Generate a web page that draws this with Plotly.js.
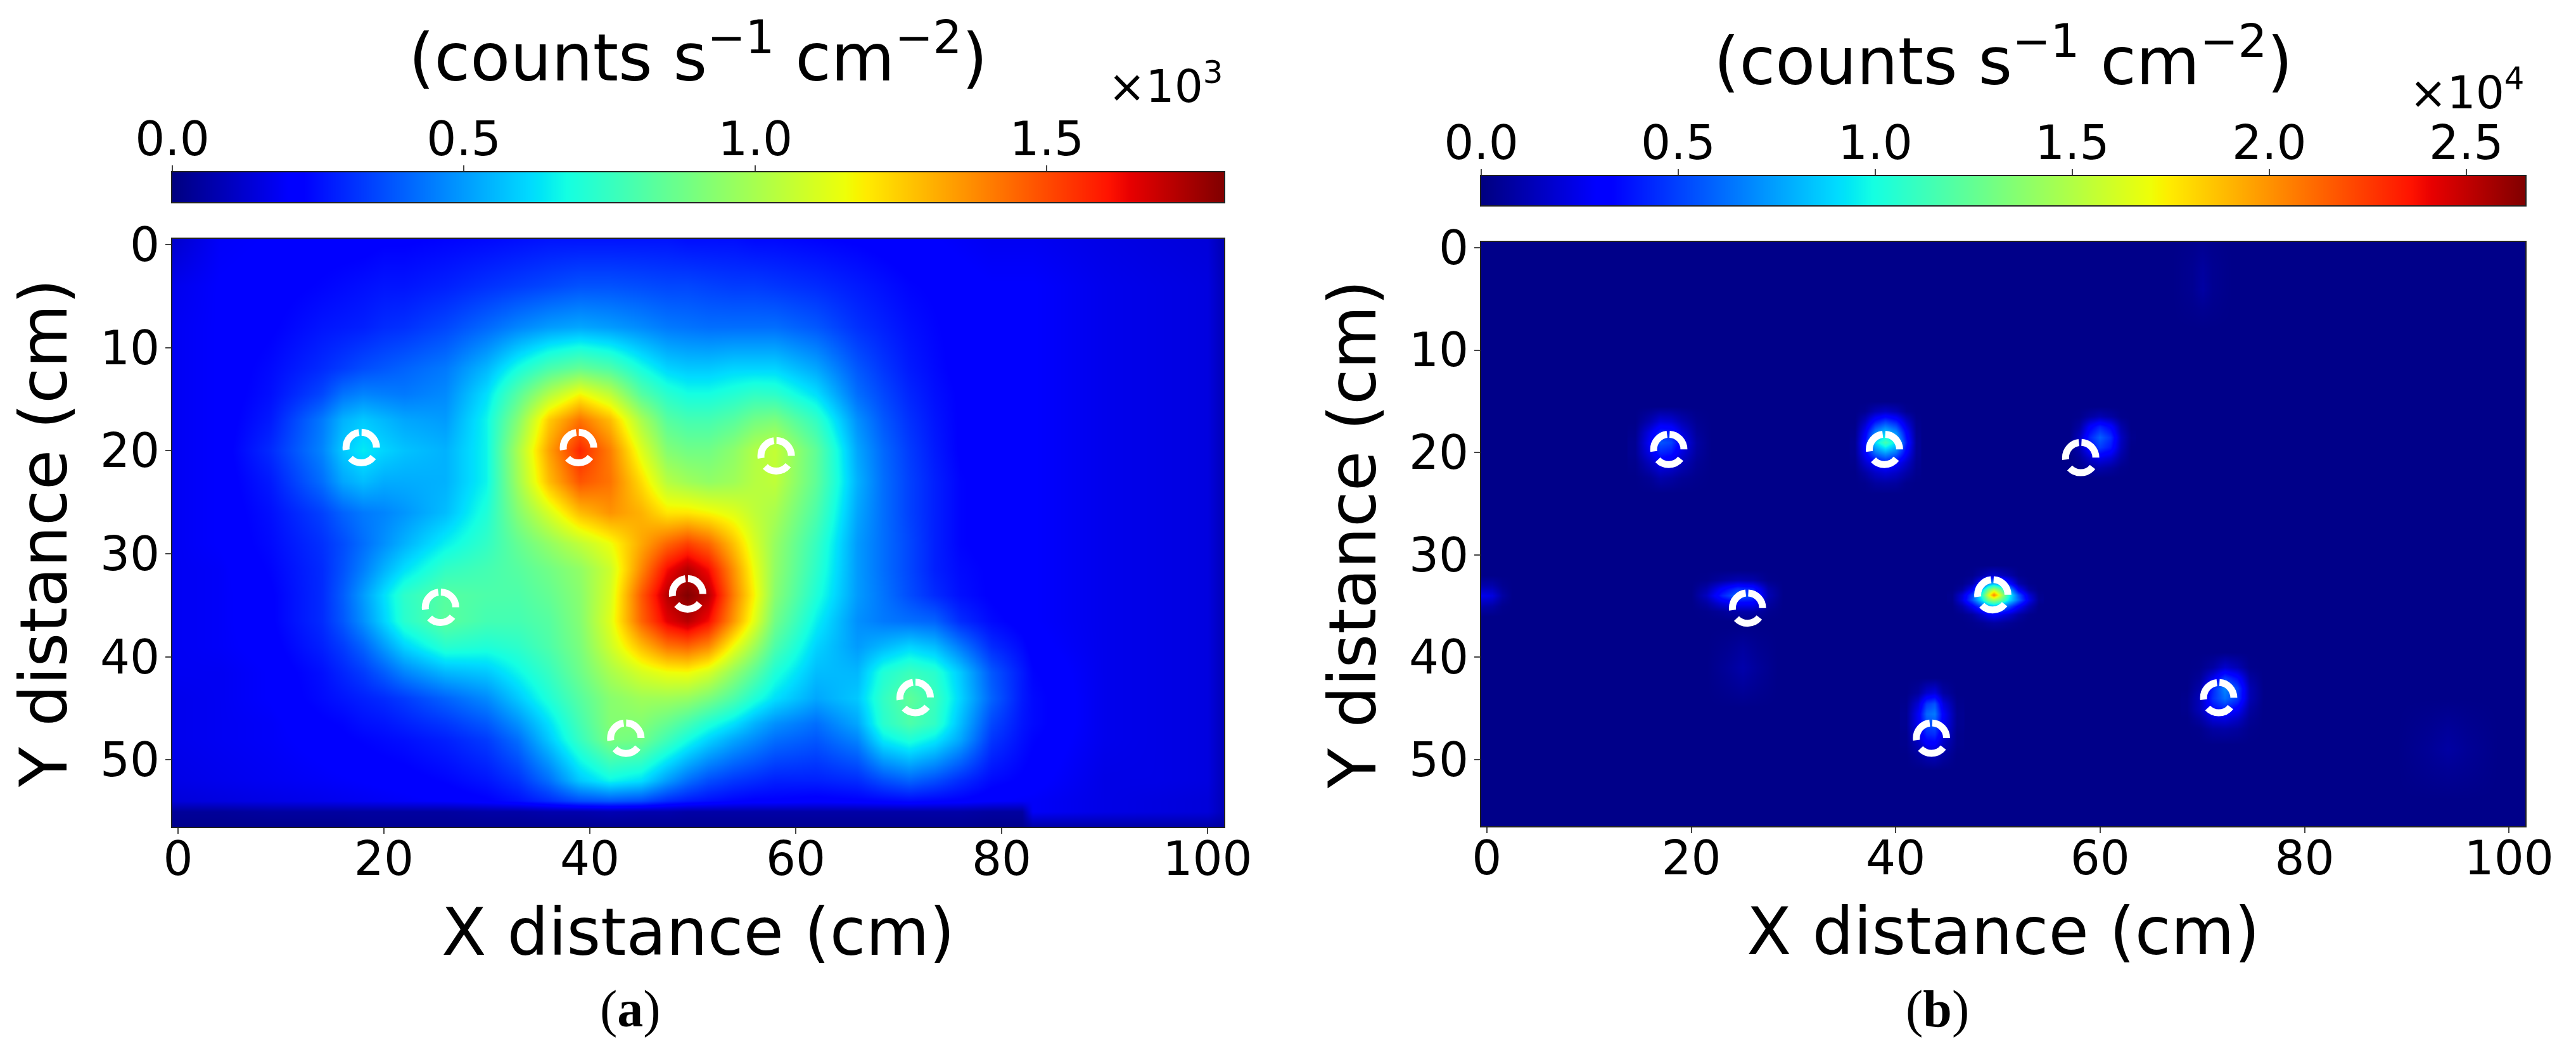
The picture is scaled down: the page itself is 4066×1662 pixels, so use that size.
<!DOCTYPE html>
<html><head><meta charset="utf-8">
<script src="https://cdn.plot.ly/plotly-3.0.1.min.js"></script>
<style>html,body{margin:0;padding:0;background:#fff}</style></head>
<body><div id="chart" style="width:4066px;height:1662px"></div>
<script>
// ---------- values ----------
const xTicks=[0,20,40,60,80,100];
const yTicks=[0,10,20,30,40,50];
const cbTicksA=[0,0.5,1,1.5];
const cbTicksB=[0,0.5,1,1.5,2,2.5];
const maxA=1.804, maxB=2.65;   // colour-scale tops, in units of 10^3 and 10^4
const ringX=[17.8,38.9,58.1,25.5,49.5,43.5,71.6];
const ringY=[19.7,19.7,20.5,35.2,33.9,47.9,43.95];

// panel (a), counts in units of 10^3
const xA=[-0.5,4,9,14,16,18,20,22,26,30,33,36,39,42,45,47.5,49.5,51.5,54,56,58,62,66,68.5,71,73.5,76,79,82,83,90,95,100,101.5];
const yA=[-0.5,4,8,12,14.5,17,20,23,26,29,31.5,34,36.5,39,41.5,44,46.5,48,52,54,55,56.5];
const zA=[
[.12,.19,.2,.21,.21,.21,.22,.22,.23,.24,.25,.26,.26,.26,.26,.26,.25,.25,.25,.24,.24,.23,.22,.21,.2,.2,.19,.18,.18,.18,.16,.15,.14,.08],
[.17,.2,.21,.23,.24,.25,.26,.26,.28,.31,.33,.35,.37,.37,.36,.35,.35,.34,.33,.33,.32,.3,.27,.25,.23,.22,.21,.2,.2,.2,.17,.16,.15,.09],
[.18,.2,.22,.26,.27,.28,.3,.31,.35,.41,.46,.5,.52,.5,.47,.44,.43,.42,.42,.42,.42,.38,.31,.28,.25,.23,.21,.2,.2,.2,.17,.16,.15,.09],
[.18,.2,.24,.3,.33,.36,.38,.4,.44,.55,.68,.79,.85,.8,.68,.6,.58,.58,.6,.6,.6,.52,.38,.32,.27,.24,.21,.2,.2,.2,.17,.16,.15,.09],
[.18,.2,.25,.35,.43,.46,.45,.44,.47,.62,.82,1.02,1.17,1.05,.82,.72,.68,.68,.71,.74,.73,.62,.42,.35,.29,.25,.22,.21,.2,.2,.17,.16,.15,.09],
[.18,.2,.27,.44,.54,.58,.55,.52,.5,.66,.92,1.25,1.42,1.28,1.0,.82,.78,.78,.82,.88,.9,.74,.48,.38,.31,.26,.22,.21,.2,.2,.17,.16,.15,.09],
[.18,.2,.3,.46,.58,.64,.6,.57,.54,.66,1.0,1.33,1.57,1.4,1.12,.92,.88,.88,.94,1.02,1.06,.84,.52,.41,.33,.27,.22,.21,.2,.2,.17,.16,.15,.09],
[.18,.2,.27,.42,.52,.56,.53,.53,.54,.66,.98,1.28,1.48,1.42,1.22,1.03,.98,.95,.98,1.03,1.05,.84,.54,.42,.34,.28,.23,.21,.2,.2,.17,.16,.15,.09],
[.18,.2,.25,.34,.4,.44,.46,.49,.56,.7,.92,1.1,1.28,1.36,1.3,1.2,1.2,1.17,1.12,1.05,1.0,.8,.52,.42,.34,.28,.23,.21,.2,.2,.17,.16,.15,.09],
[.18,.2,.24,.31,.36,.42,.48,.54,.65,.74,.85,.95,1.05,1.15,1.32,1.45,1.52,1.45,1.27,1.1,.96,.75,.5,.42,.35,.28,.23,.21,.2,.2,.17,.16,.15,.09],
[.18,.19,.23,.3,.37,.45,.54,.62,.74,.78,.82,.88,.95,1.08,1.38,1.62,1.72,1.62,1.36,1.14,.95,.73,.5,.42,.35,.28,.24,.22,.2,.2,.17,.16,.15,.09],
[.18,.19,.22,.3,.39,.5,.62,.73,.82,.8,.8,.85,.93,1.1,1.47,1.72,1.8,1.72,1.4,1.17,.93,.7,.5,.43,.36,.3,.25,.22,.2,.2,.17,.16,.15,.09],
[.18,.19,.22,.3,.38,.48,.6,.72,.83,.78,.78,.82,.92,1.12,1.45,1.65,1.72,1.62,1.35,1.12,.88,.65,.48,.44,.42,.4,.3,.24,.21,.2,.17,.16,.15,.09],
[.18,.19,.21,.28,.33,.4,.5,.6,.72,.7,.73,.8,.9,1.08,1.28,1.42,1.45,1.38,1.15,.98,.8,.6,.5,.55,.6,.56,.44,.3,.24,.21,.17,.16,.15,.09],
[.18,.18,.2,.25,.29,.33,.39,.46,.55,.58,.66,.75,.87,1.0,1.1,1.15,1.16,1.1,.95,.83,.7,.56,.55,.7,.76,.72,.58,.38,.27,.23,.17,.16,.15,.09],
[.17,.18,.2,.24,.26,.28,.3,.33,.4,.47,.58,.7,.82,.93,.98,.98,.96,.9,.8,.7,.62,.52,.58,.74,.84,.76,.6,.4,.27,.24,.17,.16,.15,.09],
[.17,.18,.19,.22,.23,.25,.26,.28,.32,.38,.48,.62,.78,.92,.92,.85,.78,.7,.62,.54,.48,.42,.52,.72,.8,.74,.56,.35,.26,.24,.17,.16,.15,.09],
[.17,.18,.19,.21,.22,.23,.24,.25,.28,.33,.42,.58,.75,.9,.88,.77,.68,.6,.52,.47,.42,.38,.46,.64,.7,.64,.52,.32,.25,.23,.17,.16,.15,.09],
[.16,.17,.18,.19,.195,.2,.205,.21,.23,.26,.31,.42,.58,.66,.62,.5,.42,.36,.32,.3,.28,.28,.3,.36,.4,.36,.3,.24,.22,.21,.16,.16,.15,.09],
[.14,.15,.16,.17,.175,.18,.185,.19,.2,.22,.25,.3,.36,.38,.36,.3,.27,.25,.23,.22,.22,.21,.22,.23,.24,.23,.22,.2,.19,.19,.16,.15,.14,.09],
[.04,.04,.05,.05,.05,.05,.05,.05,.05,.06,.06,.07,.07,.08,.07,.07,.06,.06,.06,.06,.06,.06,.06,.06,.06,.06,.06,.05,.05,.19,.16,.15,.14,.09],
[.02,.02,.02,.02,.02,.03,.03,.03,.03,.03,.03,.03,.03,.03,.03,.03,.03,.03,.03,.03,.03,.03,.03,.03,.03,.03,.03,.02,.02,.06,.06,.06,.06,.05]
];

// panel (b), counts in units of 10^4: background plus the small bright patches
const bgX=[-0.5,50,101.5], bgY=[-0.5,28,56.5];
const bgZ=[[.02,.02,.02],[.02,.02,.02],[.02,.02,.02]];

const s1X=[14.5,16,17,18,19,20.5,22], s1Y=[15.5,17,18,19,20,21,22.5,24];
const s1Z=[[.02,.02,.02,.02,.02,.02,.02],[.02,.12,.22,.2,.12,.04,.02],[.03,.25,.42,.4,.22,.06,.02],[.04,.3,.55,.5,.28,.08,.02],[.04,.25,.42,.38,.22,.07,.02],[.03,.15,.25,.22,.14,.05,.02],[.02,.05,.1,.08,.05,.03,.02],[.02,.02,.02,.02,.02,.02,.02]];

const s2X=[36,37,38,39,40,41,42], s2Y=[15,16,17,18,19,20,21,22,23,24];
const s2Z=[[.02,.02,.02,.02,.02,.02,.02],[.02,.04,.12,.16,.12,.04,.02],[.02,.15,.38,.5,.4,.18,.03],[.03,.28,.68,.85,.7,.32,.04],[.04,.35,.9,1.15,.92,.4,.05],[.04,.3,.62,.75,.62,.3,.05],[.03,.18,.3,.38,.3,.17,.04],[.02,.08,.16,.2,.16,.09,.03],[.02,.03,.07,.08,.07,.03,.02],[.02,.02,.02,.02,.02,.02,.02]];

const s3X=[57,58,59,60,61,62,63], s3Y=[15.5,16.5,17.5,18.5,19.5,20.5,21.5,22.5];
const s3Z=[[.02,.02,.02,.02,.02,.02,.02],[.02,.03,.08,.12,.08,.03,.02],[.02,.08,.3,.42,.32,.1,.02],[.02,.15,.42,.58,.45,.15,.03],[.02,.12,.35,.48,.38,.13,.02],[.02,.06,.18,.25,.2,.08,.02],[.02,.03,.07,.1,.07,.03,.02],[.02,.02,.02,.02,.02,.02,.02]];

const s4X=[45.5,46.5,47.5,48.5,49,49.6,50.2,51,52,53,54], s4Y=[31,32,32.8,33.4,33.9,34.4,35,35.8,36.6,37.5];
const s4Z=[[.02,.02,.02,.02,.02,.02,.02,.02,.02,.02,.02],[.02,.02,.03,.1,.15,.18,.15,.1,.03,.02,.02],[.02,.03,.1,.4,.7,.8,.7,.38,.1,.03,.02],[.02,.08,.3,.9,1.3,1.55,1.3,.85,.3,.08,.02],[.03,.2,.5,1.1,1.6,2.05,1.6,1.05,.55,.2,.03],[.03,.22,.55,.95,1.3,1.45,1.3,.95,.6,.25,.04],[.02,.1,.28,.55,.72,.8,.72,.55,.3,.12,.02],[.02,.03,.07,.18,.25,.3,.25,.18,.08,.03,.02],[.02,.02,.03,.05,.07,.08,.07,.05,.03,.02,.02],[.02,.02,.02,.02,.02,.02,.02,.02,.02,.02,.02]];

const s5X=[20,21.5,23,24.5,26,27.5,29], s5Y=[31.5,32.5,33.3,34,34.7,35.5,36.5];
const s5Z=[[.02,.02,.02,.02,.02,.02,.02],[.02,.03,.08,.12,.1,.03,.02],[.02,.1,.3,.45,.4,.1,.02],[.02,.15,.42,.6,.5,.12,.02],[.02,.08,.22,.3,.3,.08,.02],[.02,.03,.06,.1,.1,.04,.02],[.02,.02,.02,.02,.02,.02,.02]];

const s6X=[41,42.2,43,43.8,44.6,46], s6Y=[42,43.5,44.5,45.5,46.5,47.5,48.5,49.5,51];
const s6Z=[[.02,.02,.02,.02,.02,.02],[.02,.07,.18,.22,.08,.02],[.03,.2,.48,.55,.22,.03],[.04,.28,.6,.65,.3,.04],[.04,.28,.52,.55,.28,.04],[.03,.22,.42,.45,.22,.03],[.03,.14,.28,.3,.15,.03],[.02,.07,.12,.14,.08,.02],[.02,.02,.02,.02,.02,.02]];

const s7X=[68.5,69.8,71,72.2,73.4,74.6,76], s7Y=[39.5,41,42,43,44,45,46,47,48.5];
const s7Z=[[.02,.02,.02,.02,.02,.02,.02],[.02,.03,.08,.18,.12,.03,.02],[.02,.06,.25,.48,.35,.08,.02],[.02,.1,.42,.68,.5,.12,.02],[.03,.14,.45,.62,.48,.12,.02],[.03,.14,.35,.42,.3,.08,.02],[.02,.08,.2,.22,.16,.05,.02],[.02,.03,.08,.09,.07,.03,.02],[.02,.02,.02,.02,.02,.02,.02]];

const f1X=[-0.5,.5,1.5,2.5], f1Y=[32,33,34,35,36];
const f1Z=[[.02,.02,.02,.02],[.1,.1,.04,.02],[.25,.22,.08,.02],[.1,.08,.03,.02],[.02,.02,.02,.02]];
const f2X=[21.5,23.5,25,26.5,28.5], f2Y=[37,39,41,43,45];
const f2Z=[[.02,.02,.02,.02,.02],[.02,.04,.07,.04,.02],[.02,.06,.1,.06,.02],[.02,.04,.06,.04,.02],[.02,.02,.02,.02,.02]];
const f3X=[67,69,70,71,73], f3Y=[-0.5,2,4,6,8];
const f3Z=[[.02,.03,.04,.03,.02],[.02,.04,.07,.04,.02],[.02,.04,.08,.04,.02],[.02,.03,.04,.03,.02],[.02,.02,.02,.02,.02]];
const f4X=[89,92,94,96,99], f4Y=[44,47,49,51,54];
const f4Z=[[.02,.02,.02,.02,.02],[.02,.04,.06,.04,.02],[.02,.05,.08,.05,.02],[.02,.04,.05,.04,.02],[.02,.02,.02,.02,.02]];

// ---------- styling ----------
const W=4066,H=1662;
const jet=[[0,'#000080'],[.11,'#0000ff'],[.125,'#0000ff'],[.34,'#00dbff'],[.35,'#00e5f7'],[.375,'#14ffe2'],[.64,'#eeff08'],[.65,'#f7f500'],[.66,'#ffeb00'],[.89,'#ff1300'],[.91,'#e80000'],[1,'#800000']];
const FONT='DejaVu Sans';
const tickF={family:FONT,size:74,color:'#000'};
const titleF={family:FONT,size:103,color:'#000'};
const dx=(a,b)=>[a/W,b/W], dy=(top,bot)=>[1-bot/H,1-top/H];

function hm(x,y,z,zmax,xa,ya){return {type:'heatmap',x:x,y:y,z:z,zmin:0,zmax:zmax,colorscale:jet,zsmooth:'best',showscale:false,xaxis:xa,yaxis:ya,hoverinfo:'skip'};}

const traces=[
 hm(xA,yA,zA,maxA,'x','y'),
 hm(bgX,bgY,bgZ,maxB,'x2','y2'),
 hm(f1X,f1Y,f1Z,maxB,'x2','y2'),hm(f2X,f2Y,f2Z,maxB,'x2','y2'),hm(f3X,f3Y,f3Z,maxB,'x2','y2'),hm(f4X,f4Y,f4Z,maxB,'x2','y2'),
 hm(s1X,s1Y,s1Z,maxB,'x2','y2'),hm(s2X,s2Y,s2Z,maxB,'x2','y2'),hm(s3X,s3Y,s3Z,maxB,'x2','y2'),hm(s4X,s4Y,s4Z,maxB,'x2','y2'),hm(s5X,s5Y,s5Z,maxB,'x2','y2'),hm(s6X,s6Y,s6Z,maxB,'x2','y2'),hm(s7X,s7Y,s7Z,maxB,'x2','y2'),
 hm([0,maxA],[0,1],[[0,maxA],[0,maxA]],maxA,'x3','y3'),
 hm([0,maxB],[0,1],[[0,maxB],[0,maxB]],maxB,'x4','y4')
];

function mainX(dom,anchor){return {domain:dom,anchor:anchor,range:[-0.55,101.6],tickmode:'array',tickvals:xTicks,ticks:'outside',ticklen:9,tickwidth:2,ticklabelstandoff:-24,tickfont:tickF,showgrid:false,zeroline:false,showline:true,mirror:true,linecolor:'#222',linewidth:2,title:{text:'X distance (cm)',font:titleF,standoff:38}};}
function mainY(dom,anchor){return {domain:dom,anchor:anchor,range:[56.5,-0.55],tickmode:'array',tickvals:yTicks,ticks:'outside',ticklen:9,tickwidth:2,ticklabelstandoff:-6,tickfont:tickF,showgrid:false,zeroline:false,showline:true,mirror:true,linecolor:'#222',linewidth:2,title:{text:'Y distance (cm)',font:titleF,standoff:18}};}
function cbX(dom,anchor,max,ticks,title){return {domain:dom,anchor:anchor,side:'top',range:[0,max],tickmode:'array',tickvals:ticks,ticktext:ticks.map(v=>v.toFixed(1)),ticks:'outside',ticklen:9,tickwidth:2,ticklabelstandoff:-14,tickfont:tickF,showgrid:false,zeroline:false,showline:true,mirror:true,linecolor:'#222',linewidth:2,title:{text:title,font:titleF,standoff:14}};}
function cbY(dom,anchor){return {domain:dom,anchor:anchor,range:[0,1],showticklabels:false,ticks:'',showgrid:false,zeroline:false,showline:true,mirror:true,linecolor:'#222',linewidth:2};}

const unitTitle='(counts s<sup>\u22121</sup> cm<sup>\u22122</sup>)';
const R=1.48;
const ringDash='0px,16px,40.6px,14.7px,37.7px,4.2px,37.7px,0px';
function rings(xr,yr){return ringX.map((cx,i)=>({type:'circle',xref:xr,yref:yr,x0:cx-R,x1:cx+R,y0:ringY[i]-R,y1:ringY[i]+R,line:{color:'#fff',width:11,dash:ringDash},fillcolor:'rgba(0,0,0,0)'}));}

const layout={
 width:W,height:H,autosize:false,margin:{l:0,r:0,t:0,b:0},paper_bgcolor:'#fff',plot_bgcolor:'#fff',showlegend:false,
 xaxis:mainX(dx(272,1932),'y'), yaxis:mainY(dy(377,1305),'x'),
 xaxis2:mainX(dx(2338,3986),'y2'), yaxis2:mainY(dy(382,1304),'x2'),
 xaxis3:cbX(dx(272,1932),'y3',maxA,cbTicksA,unitTitle), yaxis3:cbY(dy(272,319),'x3'),
 xaxis4:cbX(dx(2338,3986),'y4',maxB,cbTicksB,unitTitle), yaxis4:cbY(dy(278,324),'x4'),
 shapes:rings('x','y').concat(rings('x2','y2')),
 annotations:[
  {xref:'paper',yref:'paper',x:1932/W,y:1-180/H,xanchor:'right',yanchor:'bottom',showarrow:false,text:'\u00d710<sup>3</sup>',font:{family:FONT,size:71,color:'#000'}},
  {xref:'paper',yref:'paper',x:3986/W,y:1-190/H,xanchor:'right',yanchor:'bottom',showarrow:false,text:'\u00d710<sup>4</sup>',font:{family:FONT,size:71,color:'#000'}},
  {xref:'paper',yref:'paper',x:995/W,y:1-1592/H,xanchor:'center',yanchor:'middle',showarrow:false,text:'(<b>a</b>)',font:{family:'Liberation Serif',size:82,color:'#000'}},
  {xref:'paper',yref:'paper',x:3058/W,y:1-1592/H,xanchor:'center',yanchor:'middle',showarrow:false,text:'(<b>b</b>)',font:{family:'Liberation Serif',size:82,color:'#000'}}
 ]
};
Plotly.newPlot('chart',traces,layout,{displayModeBar:false,staticPlot:true});
</script></body></html>
